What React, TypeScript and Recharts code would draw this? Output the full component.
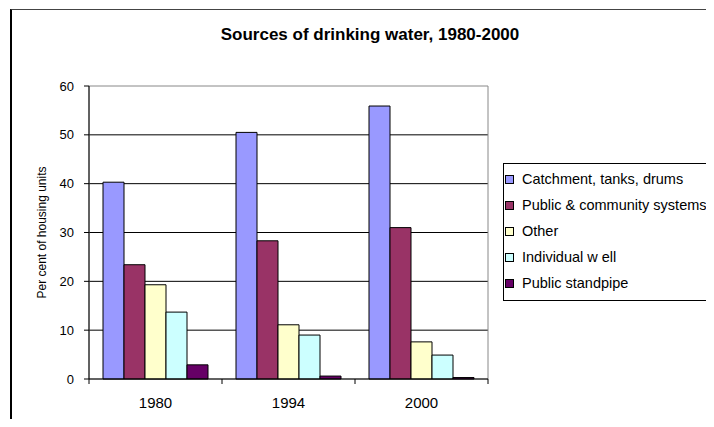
import { Bar, BarChart, CartesianGrid, Legend, ReferenceArea, XAxis, YAxis } from 'recharts'

const years = ['1980', '1994', '2000']
const catchment = [40.3, 50.5, 55.9]
const publicSystems = [23.4, 28.3, 31.0]
const other = [19.3, 11.1, 7.6]
const individualWell = [13.7, 9.0, 4.9]
const standpipe = [2.9, 0.6, 0.3]
const yTicks = [0, 10, 20, 30, 40, 50, 60]

const series = [
  { key: 'catchment', name: 'Catchment, tanks, drums', color: '#9999ff', values: catchment },
  { key: 'public', name: 'Public & community systems', color: '#993366', values: publicSystems },
  { key: 'other', name: 'Other', color: '#ffffcc', values: other },
  { key: 'well', name: 'Individual w ell', color: '#ccffff', values: individualWell },
  { key: 'standpipe', name: 'Public standpipe', color: '#660066', values: standpipe },
]

const data = years.map((year, i) => {
  const row: Record<string, string | number> = { year }
  series.forEach((s) => {
    row[s.key] = s.values[i]
  })
  return row
})

const font = '"Liberation Sans", Arial, sans-serif'
const TICK_LEN = 5
const TICK_GAP = 13

// category label plus tick marks on the band edges
function YearTick(props: any) {
  const { x, y, payload, index, visibleTicksCount } = props
  const half = payload?.offset ?? 66.5
  const axisY = y - TICK_LEN - TICK_GAP
  return (
    <g>
      <line x1={x - half} x2={x - half} y1={axisY} y2={axisY + TICK_LEN} stroke='#000' />
      {index === visibleTicksCount - 1 && (
        <line x1={x + half} x2={x + half} y1={axisY} y2={axisY + TICK_LEN} stroke='#000' />
      )}
      <text x={x} y={y} dy='0.71em' textAnchor='middle' fontSize={15} fontFamily={font} fill='#000'>
        {payload.value}
      </text>
    </g>
  )
}

function LegendBox(props: any) {
  const order = series.map((s) => s.name)
  const items = [...(props.payload || [])].sort(
    (a: any, b: any) => order.indexOf(a.value) - order.indexOf(b.value),
  )
  return (
    <div
      style={{
        border: '1px solid #000',
        width: 240,
        padding: '2px 0 4px 1px',
        background: '#fff',
        fontFamily: font,
        fontSize: 14.5,
      }}
    >
      {items.map((it: any) => (
        <div key={it.value} style={{ display: 'flex', alignItems: 'center', height: 26 }}>
          <span
            style={{
              display: 'inline-block',
              width: 7,
              height: 7,
              border: '1px solid #000',
              background: it.color,
              marginRight: 8,
            }}
          />
          <span style={{ whiteSpace: 'nowrap' }}>{it.value}</span>
        </div>
      ))}
    </div>
  )
}

export default function App() {
  return (
    <div style={{ position: 'relative', width: 706, height: 411, overflow: 'hidden', background: '#fff' }}>
      <div
        style={{
          position: 'absolute',
          left: 2,
          top: 1,
          width: 720,
          height: 420,
          borderLeft: '2px solid #000',
          borderTop: '1px solid #444',
        }}
      />
      <div
        style={{
          position: 'absolute',
          left: 162,
          top: 17,
          width: 400,
          textAlign: 'center',
          fontFamily: font,
          fontWeight: 'bold',
          fontSize: 17,
        }}
      >
        Sources of drinking water, 1980-2000
      </div>
      <BarChart
        width={706}
        height={411}
        data={data}
        margin={{ top: 78, right: 226, bottom: 0, left: 0 }}
        barCategoryGap={14}
        barGap={0}
        style={{ position: 'absolute', left: 0, top: 0 }}
      >
        <CartesianGrid horizontal vertical={false} stroke='#000' horizontalValues={[10, 20, 30, 40, 50]} />
        <ReferenceArea x1='1980' x2='2000' y1={0} y2={60} stroke='#888' fill='none' ifOverflow='visible' />
        <XAxis
          dataKey='year'
          height={40}
          stroke='#000'
          tickLine={false}
          tickSize={TICK_LEN}
          tickMargin={TICK_GAP}
          tick={<YearTick />}
        />
        <YAxis
          width={81}
          domain={[0, 60]}
          ticks={yTicks}
          interval={0}
          stroke='#000'
          tickSize={5}
          tickMargin={10}
          tick={{ fill: '#000', fontSize: 13, fontFamily: font }}
          label={{
            value: 'Per cent of housing units',
            angle: -90,
            position: 'insideLeft',
            offset: 34,
            style: { textAnchor: 'middle', fill: '#000', fontSize: 12, fontFamily: font },
          }}
        />
        <Legend
          layout='horizontal'
          align='center'
          verticalAlign='middle'
          content={<LegendBox />}
          wrapperStyle={{ left: 495, top: 155, width: 240 }}
        />
        {series.map((s) => (
          <Bar
            key={s.key}
            dataKey={s.key}
            name={s.name}
            fill={s.color}
            stroke='#000'
            strokeWidth={1}
            isAnimationActive={false}
          />
        ))}
      </BarChart>
    </div>
  )
}
